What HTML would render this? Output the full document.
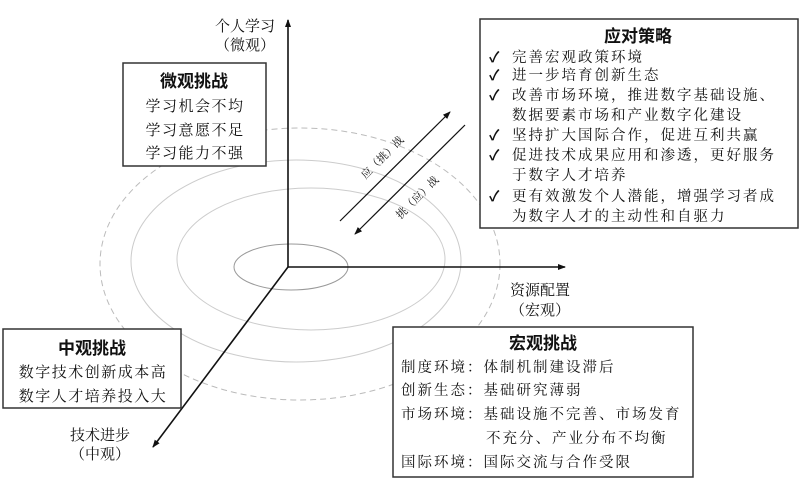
<!DOCTYPE html>
<html><head><meta charset="utf-8"><style>
body{margin:0;background:#fff;}
svg text{font-family:"Liberation Serif","Noto Serif CJK SC",serif;fill:#111;}
.b{font-family:"Liberation Sans","Noto Sans CJK SC",sans-serif !important;font-weight:bold;}
</style></head><body>
<svg width="800" height="482" viewBox="0 0 800 482" xmlns="http://www.w3.org/2000/svg">
<defs><marker id="a" markerWidth="8" markerHeight="8" refX="7" refY="4" orient="auto" markerUnits="userSpaceOnUse"><path d="M0,1 L8,4 L0,7 Z" fill="#111"/></marker></defs>
<ellipse cx="300" cy="264" rx="200" ry="136" fill="none" stroke="#bbb" stroke-dasharray="6,4"/>
<ellipse cx="296" cy="261" rx="165" ry="101" fill="none" stroke="#ccc"/>
<ellipse cx="311" cy="259" rx="134" ry="71" fill="none" stroke="#ccc"/>
<ellipse cx="291" cy="267" rx="57" ry="23" fill="none" stroke="#999"/>
<g stroke="#111" stroke-width="1.6" fill="none">
<line x1="288" y1="267" x2="288" y2="20" marker-end="url(#a)"/>
<line x1="288" y1="267" x2="565" y2="267" marker-end="url(#a)"/>
<line x1="288" y1="267" x2="153" y2="447" marker-end="url(#a)"/>
<line x1="340" y1="221" x2="450" y2="112" stroke-width="1.2" marker-end="url(#a)"/>
<line x1="465" y1="125" x2="355" y2="234" stroke-width="1.2" marker-end="url(#a)"/>
</g>
<g font-size="11" text-anchor="middle">
<text transform="translate(385,160) rotate(-45)">应（挑）战</text>
<text transform="translate(420,200) rotate(-45)">挑（应）战</text>
</g>
<g font-size="15" text-anchor="middle">
<text x="245" y="31">个人学习</text><text x="245" y="50">（微观）</text>
<text x="540" y="295">资源配置</text><text x="540" y="315">（宏观）</text>
<text x="100" y="440">技术进步</text><text x="100" y="459">（中观）</text>
</g>
<g fill="#fff" stroke="#333" stroke-width="1.5">
<rect x="123" y="63" width="143" height="103"/>
<rect x="3" y="329" width="178" height="79"/>
<rect x="393" y="327" width="300" height="150"/>
<rect x="480" y="19" width="318" height="209"/>
</g>
<g font-size="17" text-anchor="middle" class="b">
<text class="b" x="194" y="87">微观挑战</text>
<text class="b" x="92" y="354">中观挑战</text>
<text class="b" x="543" y="349">宏观挑战</text>
<text class="b" x="638" y="42">应对策略</text>
</g>
<g font-size="15" text-anchor="middle" letter-spacing="1.5">
<text x="195" y="111">学习机会不均</text>
<text x="195" y="135">学习意愿不足</text>
<text x="195" y="158">学习能力不强</text>
<text x="93" y="377">数字技术创新成本高</text>
<text x="93" y="401">数字人才培养投入大</text>
</g>
<g font-size="14.5" letter-spacing="2">
<text x="401" y="372">制度环境：体制机制建设滞后</text>
<text x="401" y="395">创新生态：基础研究薄弱</text>
<text x="401" y="419">市场环境：基础设施不完善、市场发育</text>
<text x="486" y="443">不充分、产业分布不均衡</text>
<text x="401" y="467">国际环境：国际交流与合作受限</text>
</g>
<g font-size="14.5" letter-spacing="2">
<text x="489" y="62" class="b">✓</text><text x="512" y="62">完善宏观政策环境</text>
<text x="489" y="80" class="b">✓</text><text x="512" y="80">进一步培育创新生态</text>
<text x="489" y="100" class="b">✓</text><text x="512" y="100">改善市场环境，推进数字基础设施、</text>
<text x="512" y="120">数据要素市场和产业数字化建设</text>
<text x="489" y="140" class="b">✓</text><text x="512" y="140">坚持扩大国际合作，促进互利共赢</text>
<text x="489" y="160" class="b">✓</text><text x="512" y="160">促进技术成果应用和渗透，更好服务</text>
<text x="512" y="180">于数字人才培养</text>
<text x="489" y="201" class="b">✓</text><text x="512" y="201">更有效激发个人潜能，增强学习者成</text>
<text x="512" y="221">为数字人才的主动性和自驱力</text>
</g>
</svg>
</body></html>
